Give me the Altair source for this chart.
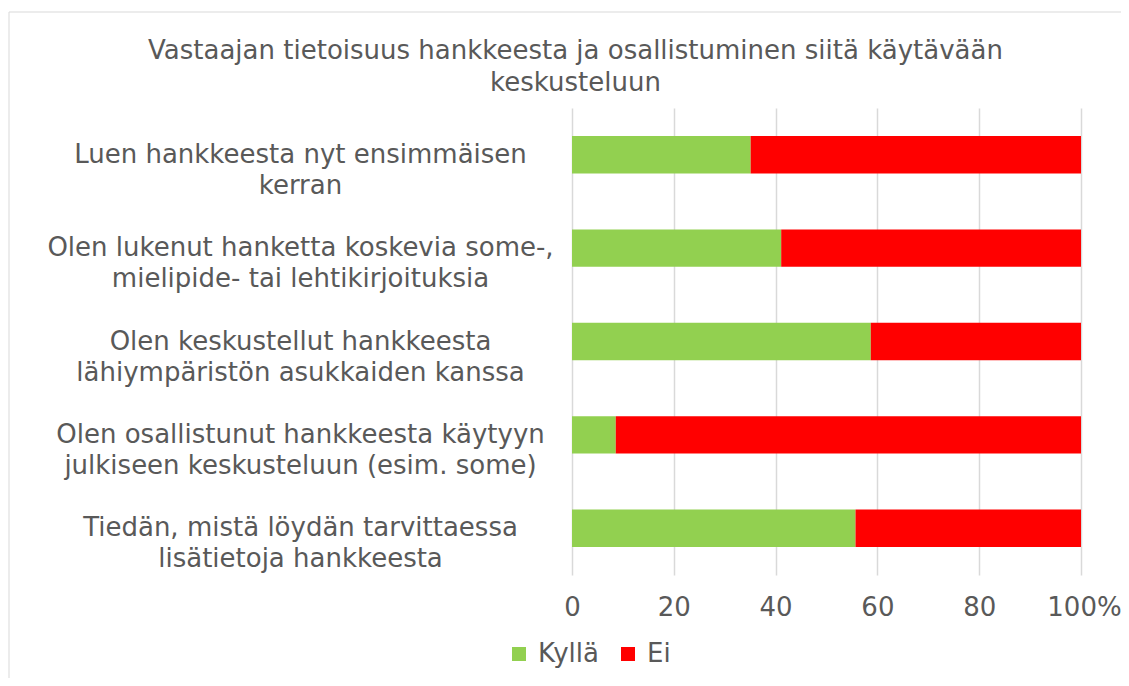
import altair as alt
import pandas as pd

categories = [
    "Luen hankkeesta nyt ensimmäisen|kerran",
    "Olen lukenut hanketta koskevia some-,|mielipide- tai lehtikirjoituksia",
    "Olen keskustellut hankkeesta|lähiympäristön asukkaiden kanssa",
    "Olen osallistunut hankkeesta käytyyn|julkiseen keskusteluun (esim. some)",
    "Tiedän, mistä löydän tarvittaessa|lisätietoja hankkeesta",
]
kylla = [35.1, 41.1, 58.7, 8.6, 55.7]
ei = [64.9, 58.9, 41.3, 91.4, 44.3]
series = ["Kyllä", "Ei"]
colors = ["#92D050", "#FF0000"]
tick_values = [0, 20, 40, 60, 80, 100]
title_lines = ["Vastaajan tietoisuus hankkeesta ja osallistuminen siitä käytävään", "keskusteluun"]

rows = []
for c, k, e in zip(categories, kylla, ei):
    rows.append({"cat": c, "series": series[0], "value": k, "ord": 0})
    rows.append({"cat": c, "series": series[1], "value": e, "ord": 1})
df = pd.DataFrame(rows)

FONT = "DejaVu Sans"
TXT = "#595959"
GRID = "#D9D9D9"

bars = alt.Chart(df).mark_bar().encode(
    x=alt.X(
        "value:Q",
        stack="zero",
        scale=alt.Scale(domain=[0, 100], nice=False),
        axis=alt.Axis(
            values=tick_values,
            title=None,
            grid=True,
            gridColor=GRID,
            gridWidth=1.5,
            domain=False,
            ticks=False,
            labelFont=FONT,
            labelFontSize=26,
            labelColor=TXT,
            labelPadding=19,
            labelFlush=False,
            labelExpr="datum.value == 100 ? '100%' : datum.label",
            labelOffset={"condition": {"test": "datum.value == 100", "value": 3}, "value": 0},
        ),
    ),
    y=alt.Y(
        "cat:N",
        sort=categories,
        scale=alt.Scale(paddingInner=0.6, paddingOuter=0.3),
        axis=alt.Axis(
            title=None,
            domain=False,
            ticks=False,
            labelExpr="split(datum.label, '|')",
            labelAlign="center",
            labelPadding=272,
            labelLimit=800,
            labelLineHeight=31,
            labelFont=FONT,
            labelFontSize=26,
            labelColor=TXT,
        ),
    ),
    color=alt.Color(
        "series:N",
        scale=alt.Scale(domain=series, range=colors),
        legend=alt.Legend(
            title=None,
            orient="none",
            legendX=-66,
            legendY=533,
            direction="horizontal",
            symbolType="square",
            symbolSize=196,
            symbolStrokeWidth=0,
            labelFont=FONT,
            labelFontSize=26,
            labelColor=TXT,
            columnPadding=16,
            labelOffset=6,
        ),
    ),
    order=alt.Order("ord:Q"),
)

frame_df = pd.DataFrame({"k": [0]})
top_border = alt.Chart(frame_df).mark_rule(color=GRID, strokeWidth=1).encode(
    x=alt.value(-563), x2=alt.value(560), y=alt.value(-96)
)
left_border = alt.Chart(frame_df).mark_rule(color=GRID, strokeWidth=1).encode(
    x=alt.value(-563), y=alt.value(-96), y2=alt.value(575)
)

chart = alt.layer(top_border, left_border, bars).properties(
    width=509,
    height=467,
    title=alt.Title(
        title_lines,
        font=FONT,
        fontSize=26,
        fontWeight="normal",
        color=TXT,
        lineHeight=32,
        anchor="middle",
        dx=-251,
        dy=96,
        offset=12,
    ),
    autosize=alt.AutoSizeParams(type="none"),
    padding={"left": 564, "top": 100, "right": 40, "bottom": 103},
).configure_view(stroke=None)

chart.save("out.html", embed_options={"renderer": "svg", "actions": False})
